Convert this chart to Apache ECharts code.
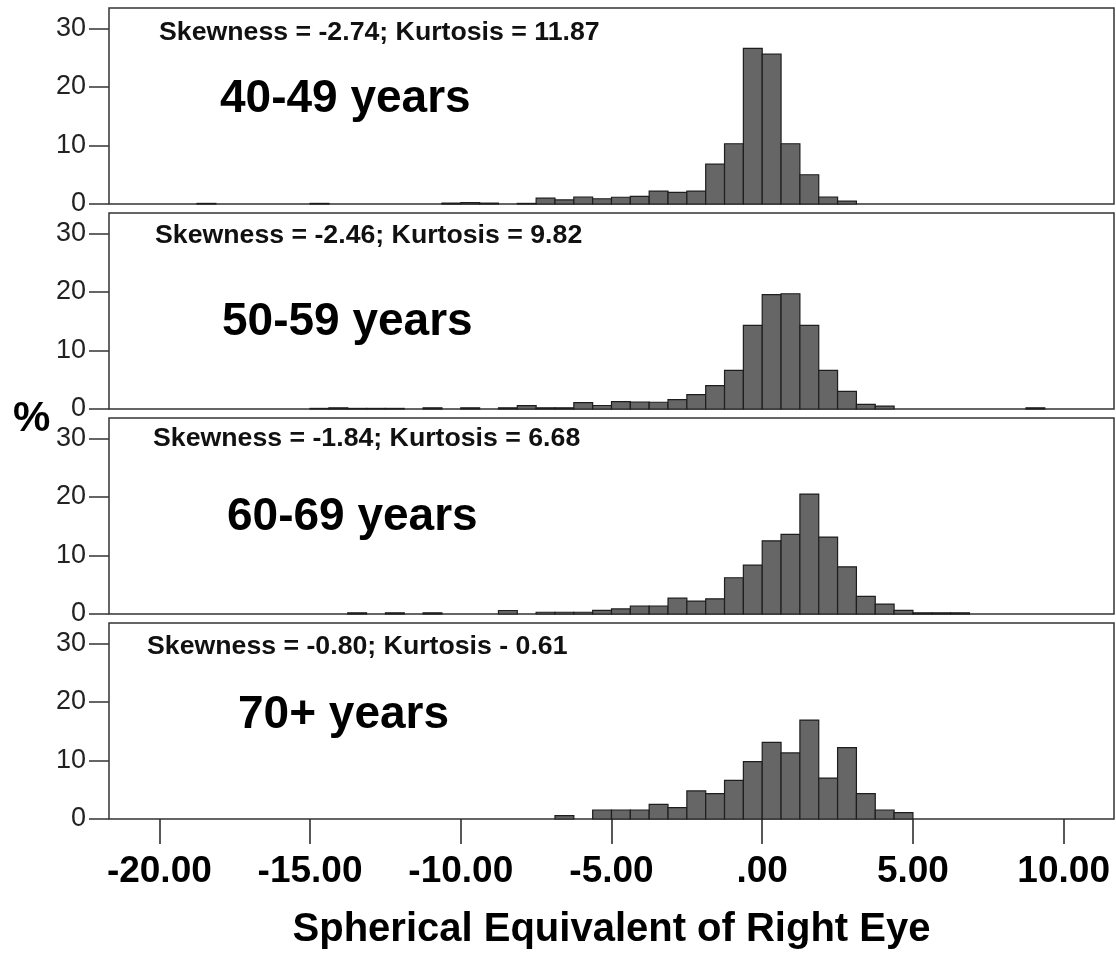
<!DOCTYPE html>
<html>
<head>
<meta charset="utf-8">
<script src="https://cdn.jsdelivr.net/npm/echarts@6/dist/echarts.min.js"></script>
<style>
html,body{margin:0;padding:0;background:#fff;}
#chart{width:1116px;height:953px;}
</style>
</head>
<body>
<div id="chart"></div>
<script>
// ---- data ----
const BIN_WIDTH = 0.625;
const panelLabels = ['40-49 years', '50-59 years', '60-69 years', '70+ years'];
const statLabels = [
  'Skewness = -2.74; Kurtosis = 11.87',
  'Skewness = -2.46; Kurtosis = 9.82',
  'Skewness = -1.84; Kurtosis = 6.68',
  'Skewness = -0.80; Kurtosis - 0.61'
];
const xTickValues = [-20, -15, -10, -5, 0, 5, 10];
const xTickLabels = ['-20.00', '-15.00', '-10.00', '-5.00', '.00', '5.00', '10.00'];
const yTickValues = [0, 10, 20, 30];
const xAxisTitle = 'Spherical Equivalent of Right Eye';
const yAxisTitle = '%';

// bin lower edges (D) and percentages per age group
const edges40 = [-18.75, -15.0, -10.625, -10.0, -9.375, -8.125, -7.5, -6.875, -6.25, -5.625, -5.0, -4.375, -3.75, -3.125, -2.5, -1.875, -1.25, -0.625, 0, 0.625, 1.25, 1.875, 2.5];
const pct40 = [0.1, 0.1, 0.15, 0.25, 0.15, 0.1, 1.0, 0.7, 1.2, 0.9, 1.15, 1.3, 2.2, 2.0, 2.2, 6.8, 10.3, 26.6, 25.6, 10.3, 5.0, 1.2, 0.5];

const edges50 = [-15, -14.375, -13.75, -13.125, -12.5, -11.25, -10, -8.75, -8.125, -7.5, -6.875, -6.25, -5.625, -5, -4.375, -3.75, -3.125, -2.5, -1.875, -1.25, -0.625, 0, 0.625, 1.25, 1.875, 2.5, 3.125, 3.75, 8.75];
const pct50 = [0.1, 0.2, 0.1, 0.1, 0.1, 0.2, 0.2, 0.2, 0.57, 0.2, 0.2, 1.1, 0.6, 1.25, 1.2, 1.15, 1.6, 2.45, 4.0, 6.6, 14.3, 19.55, 19.7, 14.3, 6.6, 3.0, 0.8, 0.5, 0.2];

const edges60 = [-13.75, -12.5, -11.25, -8.75, -7.5, -6.875, -6.25, -5.625, -5, -4.375, -3.75, -3.125, -2.5, -1.875, -1.25, -0.625, 0, 0.625, 1.25, 1.875, 2.5, 3.125, 3.75, 4.375, 5, 5.625, 6.25];
const pct60 = [0.2, 0.2, 0.2, 0.6, 0.3, 0.3, 0.3, 0.63, 0.86, 1.37, 1.37, 2.7, 2.2, 2.6, 6.2, 8.35, 12.5, 13.6, 20.5, 13.15, 8.06, 3.0, 1.7, 0.63, 0.2, 0.2, 0.2];

const edges70 = [-6.875, -5.625, -5, -4.375, -3.75, -3.125, -2.5, -1.875, -1.25, -0.625, 0, 0.625, 1.25, 1.875, 2.5, 3.125, 3.75, 4.375];
const pct70 = [0.57, 1.54, 1.54, 1.54, 2.5, 1.94, 4.8, 4.35, 6.6, 9.8, 13.1, 11.3, 16.9, 7.0, 12.2, 4.35, 1.54, 1.1];

const panelEdges = [edges40, edges50, edges60, edges70];
const panelPct = [pct40, pct50, pct60, pct70];

// ---- layout ----
const gridTops = [8, 213, 418, 623];
const gridHeight = 196;
const X_MIN = -21.67, X_MAX = 11.67, Y_MAX = 33.5;
const FONT = 'Arial, "Liberation Sans", Helvetica, sans-serif';

const grids = [], xAxes = [], yAxes = [], series = [], graphics = [];
const statPos = [[159, 34], [155, 237], [153, 440], [147, 648]];
const agePos = [[220, 102], [222, 325], [227, 520], [238, 718]];

for (let i = 0; i < 4; i++) {
  grids.push({
    left: 109, right: 2, top: gridTops[i], height: gridHeight,
    show: true, borderColor: '#333', borderWidth: 1.5, backgroundColor: '#fff'
  });
  const isBottom = i === 3;
  xAxes.push({
    type: 'value', gridIndex: i, min: X_MIN, max: X_MAX,
    show: true, position: 'bottom',
    axisLine: { show: false, onZero: false },
    splitLine: { show: false },
    axisTick: {
      show: isBottom, length: 25, inside: false,
      customValues: xTickValues,
      lineStyle: { color: '#222', width: 1.5 }
    },
    axisLabel: {
      show: isBottom, margin: 34,
      customValues: xTickValues,
      formatter: v => xTickLabels[xTickValues.indexOf(v)],
      fontFamily: FONT, fontWeight: 'bold', fontSize: 37, color: '#000'
    },
    name: isBottom ? xAxisTitle : '',
    nameLocation: 'middle', nameGap: 91,
    nameTextStyle: { fontFamily: FONT, fontWeight: 'bold', fontSize: 40, color: '#000' }
  });
  yAxes.push({
    type: 'value', gridIndex: i, min: 0, max: Y_MAX, position: 'left',
    axisLine: { show: false, onZero: false },
    splitLine: { show: false },
    axisTick: {
      show: true, length: 20, inside: false,
      customValues: yTickValues,
      lineStyle: { color: '#333', width: 1.5 }
    },
    axisLabel: {
      margin: 23, customValues: yTickValues,
      fontFamily: FONT, fontSize: 27, color: '#222'
    }
  });
  const data = panelEdges[i].map((e, k) => [e, e + BIN_WIDTH, panelPct[i][k]]);
  series.push({
    type: 'custom', xAxisIndex: i, yAxisIndex: i,
    data: data,
    encode: { x: [0, 1], y: 2 },
    renderItem: function (params, api) {
      const p0 = api.coord([api.value(0), 0]);
      const p1 = api.coord([api.value(1), api.value(2)]);
      return {
        type: 'rect',
        shape: { x: p0[0], y: p1[1], width: p1[0] - p0[0], height: p0[1] - p1[1] },
        style: { fill: '#666666', stroke: '#1e1e1e', lineWidth: 1.2 }
      };
    }
  });
  graphics.push({
    type: 'text', left: statPos[i][0], top: statPos[i][1] - 15,
    style: { text: statLabels[i], fontFamily: FONT, fontSize: 26.7, fontWeight: 'bold', fill: '#111' }
  });
  graphics.push({
    type: 'text', left: agePos[i][0], top: agePos[i][1] - 26,
    style: { text: panelLabels[i], fontFamily: FONT, fontSize: 46, fontWeight: 'bold', fill: '#000' }
  });
}
graphics.push({
  type: 'text', left: 13, top: 398,
  style: { text: yAxisTitle, fontFamily: FONT, fontSize: 42, fontWeight: 'bold', fill: '#000' }
});

const chart = echarts.init(document.getElementById('chart'), null, { renderer: 'canvas' });
chart.setOption({
  animation: false,
  backgroundColor: '#fff',
  grid: grids,
  xAxis: xAxes,
  yAxis: yAxes,
  series: series,
  graphic: graphics
});
</script>
</body>
</html>
